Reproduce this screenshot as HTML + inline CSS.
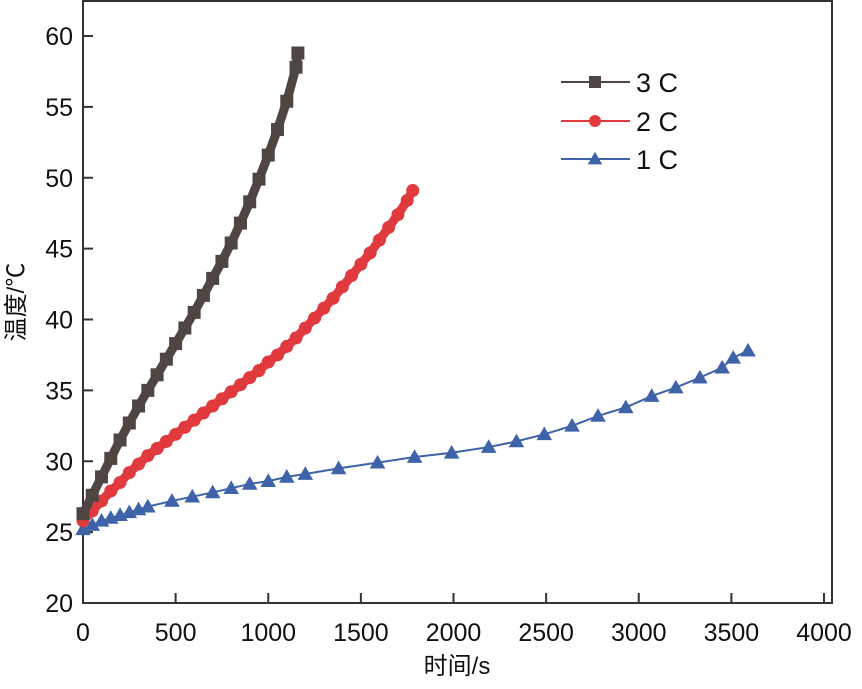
<!DOCTYPE html>
<html><head><meta charset="utf-8"><style>
body{margin:0;background:#fff}
svg text{font-family:"Liberation Sans","Noto Sans CJK SC",sans-serif;fill:#111}
</style></head><body>
<svg id="c" width="862" height="684"></svg>
<script>
const xTicks=[0,500,1000,1500,2000,2500,3000,3500,4000];
const yTicks=[20,25,30,35,40,45,50,55,60];
const t3=[0,50,100,150,200,250,300,350,400,450,500,550,600,650,700,750,800,850,900,950,1000,1050,1100,1150,1160];
const v3=[26.3,27.6,28.9,30.2,31.5,32.7,33.9,35,36.1,37.2,38.3,39.4,40.5,41.7,42.9,44.1,45.4,46.8,48.3,49.9,51.6,53.4,55.4,57.8,58.8];
const t2=[0,50,100,150,200,250,300,350,400,450,500,550,600,650,700,750,800,850,900,950,1000,1050,1100,1150,1200,1250,1300,1350,1400,1450,1500,1550,1600,1650,1700,1750,1780];
const v2=[25.8,26.5,27.2,27.9,28.5,29.2,29.8,30.4,30.9,31.4,31.9,32.4,32.9,33.4,33.9,34.4,34.9,35.4,35.9,36.4,37,37.5,38.1,38.7,39.4,40.1,40.8,41.5,42.3,43.1,43.9,44.7,45.6,46.5,47.4,48.4,49.1];
const t1=[0,50,100,150,200,250,300,350,480,590,700,800,900,1000,1100,1200,1380,1590,1790,1990,2190,2340,2490,2640,2780,2930,3070,3200,3330,3450,3510,3590];
const v1=[25.2,25.5,25.8,26,26.2,26.4,26.6,26.8,27.2,27.5,27.8,28.1,28.4,28.6,28.9,29.1,29.5,29.9,30.3,30.6,31,31.4,31.9,32.5,33.2,33.8,34.6,35.2,35.9,36.6,37.3,37.8];
const L=83,R=832,T=1,B=603;
const X=v=>L+v*(741/4000);
const Y=v=>B-(v-20)*(567/40);
const s=document.getElementById('c'),NS='http://www.w3.org/2000/svg';
function mk(tag,a,parent){const e=document.createElementNS(NS,tag);for(const k in a)e.setAttribute(k,a[k]);(parent||s).appendChild(e);return e;}
const frame=mk('rect',{x:L,y:T,width:R-L,height:B-T,fill:'none',stroke:'#333','stroke-width':2});


xTicks.forEach(v=>{
 const l=mk('line',{x1:X(v),x2:X(v),y1:B,y2:B-10,stroke:'#333','stroke-width':2});
 
 
 const t=mk('text',{x:X(v),y:B+38,'text-anchor':'middle','font-size':25});t.textContent=v;
 
 
});
yTicks.forEach(v=>{
 const l=mk('line',{x1:L,x2:L+10,y1:Y(v),y2:Y(v),stroke:'#333','stroke-width':2});
 
 
 const t=mk('text',{x:L-10,y:Y(v)+9,'text-anchor':'end','font-size':25});t.textContent=v;
 
 
});
const xt=mk('text',{x:457,y:674,'text-anchor':'middle','font-size':24});xt.textContent='时间/s';


const yt=mk('text',{x:0,y:0,'text-anchor':'middle','font-size':24,transform:'translate(24,302) rotate(-90)'});yt.textContent='温度/℃';


function marker(g,type,x,y,c,sz){
 if(type==='sq')return mk('rect',{x:x-sz/2,y:y-sz/2,width:sz,height:sz,fill:c},g);
 if(type==='ci')return mk('circle',{cx:x,cy:y,r:sz/2,fill:c},g);
 return mk('polygon',{points:`${x},${y-sz*0.6} ${x-sz*0.6},${y+sz*0.45} ${x+sz*0.6},${y+sz*0.45}`,fill:c},g);
}
function series(name,ts,vs,c,type,lw){
 const g=mk('g',{});
 
 
 mk('polyline',{points:ts.map((t,i)=>X(t)+','+Y(vs[i])).join(' '),fill:'none',stroke:c,'stroke-width':lw},g);
 ts.forEach((t,i)=>{const m=marker(g,type,X(t),Y(vs[i]),c,13);
  
  });
}
series('series-1c',t1,v1,'#3f63a8','tr',2);
series('series-2c',t2,v2,'#e0393e','ci',9);
series('series-3c',t3,v3,'#4f4644','sq',9);
const leg=[['3 C','#4f4644','sq',82],['2 C','#e0393e','ci',121],['1 C','#3f63a8','tr',159]];
leg.forEach(([lab,c,ty,y])=>{
 const g=mk('g',{});
 
 
 mk('line',{x1:561,x2:630,y1:y,y2:y,stroke:c,'stroke-width':2},g);
 marker(g,ty,595,y,c,12);
 const t=mk('text',{x:636,y:y+10,'font-size':27},g);t.textContent=lab;
});
</script>
</body></html>
